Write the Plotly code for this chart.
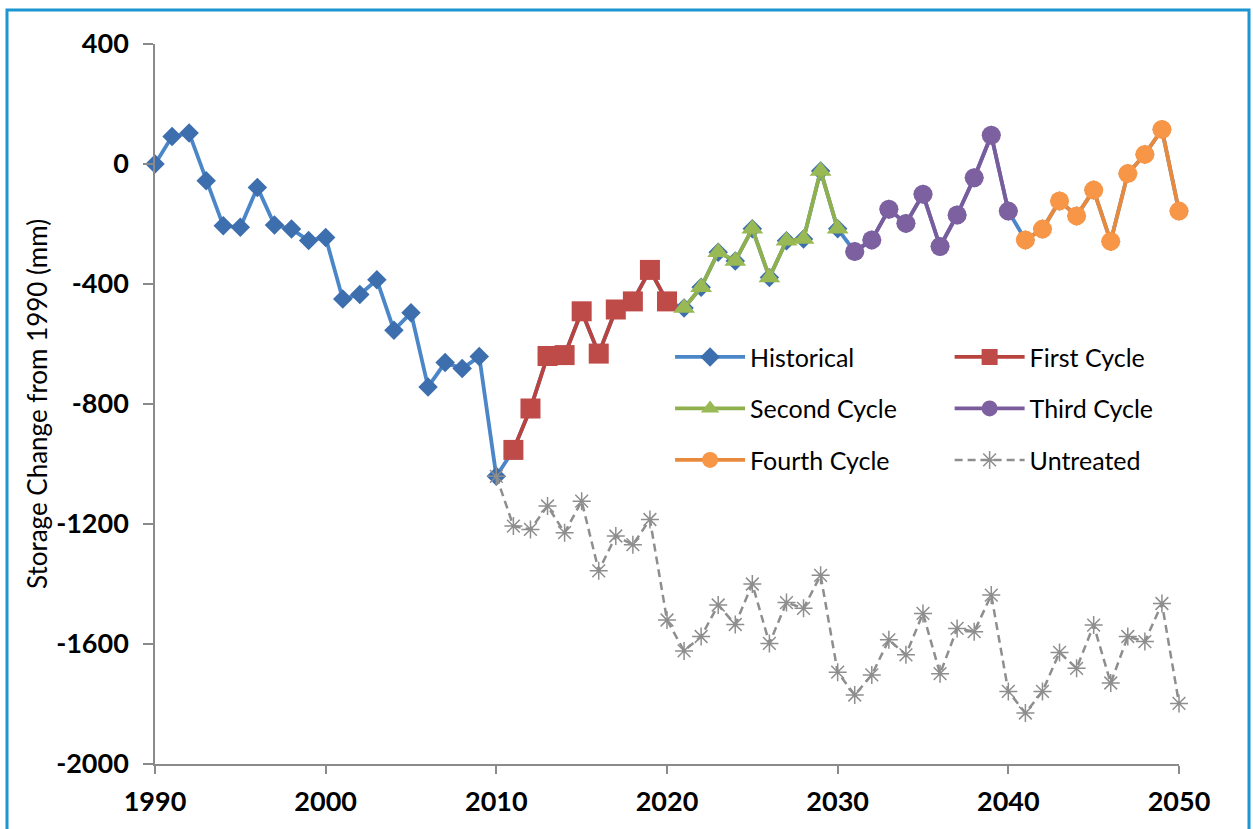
import plotly.graph_objects as go

# ---------------- data ----------------
hist_years = list(range(1990, 2011))
historical = [0, 92, 103, -56, -206, -211, -78, -203, -217, -255, -245,
              -450, -435, -386, -554, -496, -743, -662, -682, -642, -1041]

first_years = list(range(2011, 2021))
first_cycle = [-953, -815, -640, -637, -491, -632, -485, -458, -353, -458]

second_years = list(range(2021, 2031))
second_cycle = [-480, -411, -294, -323, -216, -378, -256, -250, -23, -216]

third_years = list(range(2031, 2041))
third_cycle = [-292, -253, -151, -198, -101, -275, -170, -46, 96, -157]

fourth_years = list(range(2041, 2051))
fourth_cycle = [-253, -217, -123, -173, -87, -258, -32, 32, 115, -157]

untreated_years = list(range(2010, 2051))
untreated = [-1041, -1207, -1218, -1140, -1229, -1124, -1356, -1240, -1269, -1185,
             -1520, -1623, -1575, -1470, -1535, -1400, -1598, -1462, -1481, -1371,
             -1694, -1770, -1703, -1586, -1636, -1498, -1699, -1548, -1559, -1437,
             -1758, -1830, -1758, -1628, -1681, -1537, -1730, -1575, -1592, -1465,
             -1798]

x_ticks = [1990, 2000, 2010, 2020, 2030, 2040, 2050]
x_tick_labels = ["1990", "2000", "2010", "2020", "2030", "2040", "2050"]
y_ticks = [400, 0, -400, -800, -1200, -1600, -2000]
y_tick_labels = ["400", "0", "-400", "-800", "-1200", "-1600", "-2000"]

# full blue line runs underneath the cycles
all_years = hist_years + first_years + second_years + third_years + fourth_years
all_values = historical + first_cycle + second_cycle + third_cycle + fourth_cycle

FONT = "Lato"
fig = go.Figure()

fig.add_trace(go.Scatter(
    x=all_years, y=all_values, mode="lines+markers", name="Historical",
    line=dict(color="#4A86C8", width=3.8),
    marker=dict(symbol="diamond", size=15, color="#3D6FAF"),
    legend="legend", legendgroup="h", legendrank=1, cliponaxis=False))

fig.add_trace(go.Scatter(
    x=first_years, y=first_cycle, mode="lines+markers", name="First Cycle",
    line=dict(color="#B9433F", width=3.8),
    marker=dict(symbol="square", size=20, color="#BE4B48"),
    legend="legend2", legendgroup="f", legendrank=1, cliponaxis=False))

fig.add_trace(go.Scatter(
    x=second_years, y=second_cycle, mode="lines+markers", name="Second Cycle",
    line=dict(color="#8FB04C", width=3.8),
    marker=dict(symbol="triangle-up", size=19, color="#98B954"),
    legend="legend", legendgroup="s", legendrank=2, cliponaxis=False))

fig.add_trace(go.Scatter(
    x=third_years, y=third_cycle, mode="lines+markers", name="Third Cycle",
    line=dict(color="#7A5C9C", width=3.8),
    marker=dict(symbol="circle", size=19, color="#7D60A0"),
    legend="legend2", legendgroup="t", legendrank=2, cliponaxis=False))

fig.add_trace(go.Scatter(
    x=fourth_years, y=fourth_cycle, mode="lines+markers", name="Fourth Cycle",
    line=dict(color="#E8893B", width=3.8),
    marker=dict(symbol="circle", size=19, color="#F79646"),
    legend="legend", legendgroup="o", legendrank=3, cliponaxis=False))

fig.add_trace(go.Scatter(
    x=untreated_years, y=untreated, mode="lines+markers", name="Untreated",
    line=dict(color="#8E8E8E", width=2.5, dash="8px,5px"),
    marker=dict(symbol="asterisk-open", size=15, color="#8E8E8E",
                line=dict(color="#8E8E8E", width=1.5)),
    legend="legend2", legendgroup="u", legendrank=3, cliponaxis=False))

legend_common = dict(
    orientation="v", traceorder="grouped", tracegroupgap=16,
    font=dict(family=FONT, size=25, color="#000000"),
    bgcolor="rgba(0,0,0,0)", itemwidth=70, itemclick=False,
    xanchor="left", yanchor="top")

fig.update_layout(
    width=1253, height=829,
    margin=dict(l=155, r=74, t=44, b=63),
    paper_bgcolor="white", plot_bgcolor="white",
    font=dict(family=FONT, size=25, color="#000000"),
    showlegend=True,
    legend=dict(x=0.503, y=0.597, **legend_common),
    legend2=dict(x=0.776, y=0.597, **legend_common),
    xaxis=dict(range=[1990, 2050], tickvals=x_ticks, ticktext=x_tick_labels,
               showline=True, linecolor="#8A8A8A", linewidth=1.5,
               ticks="outside", ticklen=8, tickcolor="#8A8A8A", tickwidth=1.5,
               showgrid=False, zeroline=False, ticklabelstandoff=5,
               tickfont=dict(family=FONT, size=27, weight="bold")),
    yaxis=dict(range=[-2000, 400], tickvals=y_ticks, ticktext=y_tick_labels,
               showline=True, linecolor="#8A8A8A", linewidth=1.5,
               ticks="outside", ticklen=10, tickcolor="#8A8A8A", tickwidth=1.5,
               showgrid=False, zeroline=False, ticklabelstandoff=9,
               tickfont=dict(family=FONT, size=27, weight="bold"),
               title=dict(text="Storage Change from 1990 (mm)",
                          font=dict(family=FONT, size=26), standoff=1)),
    shapes=[dict(type="rect", xref="paper", yref="paper",
                 x0=(7 - 155) / 1024, x1=(1249 - 155) / 1024,
                 y0=(766 - 840) / 722, y1=(766 - 10) / 722,
                 line=dict(color="#1B96D2", width=3), fillcolor="rgba(0,0,0,0)",
                 layer="below")],
)

fig.write_html("out.html", config={"displayModeBar": False},
               post_script="document.body.style.margin='0';")
